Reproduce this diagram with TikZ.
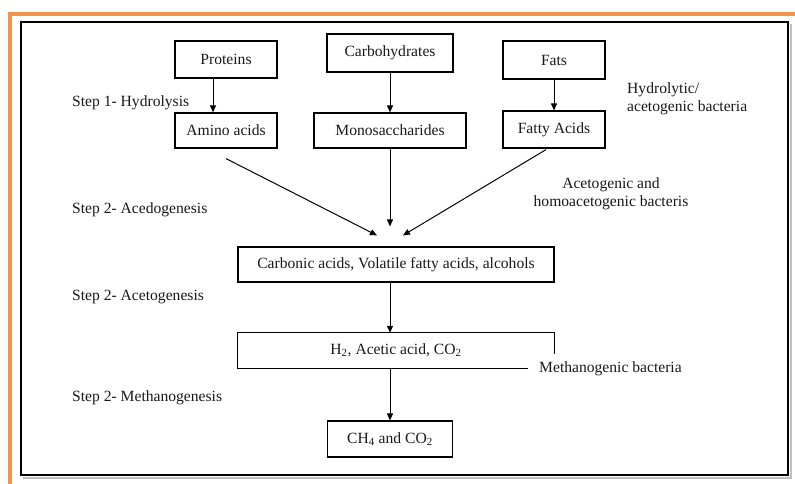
\documentclass[tikz,border=0pt]{standalone}
\usepackage{fontspec}
\setmainfont{Liberation Serif}
\usepackage{tikz}
\usetikzlibrary{arrows.meta}
\definecolor{frameOrange}{RGB}{243,150,75}
\newcommand{\chemSub}[1]{\textsubscript{#1}}
\newcommand{\labelSize}[0]{\fontsize{15.6}{18}\selectfont}

\begin{document}
\begin{tikzpicture}[x=1pt, y=-1pt, >={Triangle[length=7pt,width=6pt]}]
  \tikzset{every node/.style={font=\labelSize, inner sep=0pt, text=black!90},
    stage box/.style={draw, line width=1.2pt, minimum height=36pt},
    step label/.style={anchor=west},
    flow/.style={->, line width=1pt}}
  \useasboundingbox (0,0) rectangle (795,484);
  \fill[white] (0,0) rectangle (795,484);
  \draw[frameOrange, line width=4pt] (10.3,484) -- (10.3,13.7) -- (795,13.7);
  \draw[black!25, line width=2pt] (23,477.5) -- (790.5,477.5) -- (790.5,24);
  \draw[line width=1.3pt] (21,22) rectangle (788,475);
  \node[stage box, minimum width=102pt, minimum height=37pt] (SUB-1) at (226,59.5) {Proteins};
  \node[stage box, minimum width=126pt, minimum height=38pt] (SUB-2) at (390,53) {Carbohydrates};
  \node[stage box, minimum width=102pt, minimum height=38pt] (SUB-3) at (554,60) {Fats};
  \node[stage box, minimum width=102pt, minimum height=35pt] (MON-1) at (226,130.5) {Amino acids};
  \node[stage box, minimum width=152pt, minimum height=35pt] (MON-2) at (390,130.5) {Monosaccharides};
  \node[stage box, minimum width=102pt, minimum height=37pt] (MON-3) at (554,129.5) {Fatty Acids};
  \node[stage box, minimum width=316pt, minimum height=35pt] (INT-1) at (396,264.5) {Carbonic acids, Volatile fatty acids, alcohols};
  \node[minimum width=316pt, minimum height=35pt] (INT-2) at (396,350.5) {H\chemSub{2}, Acetic acid, CO\chemSub{2}};
  \draw[line width=1.2pt] ([xshift=290pt]INT-2.south west) -- (INT-2.south west) -- (INT-2.north west)
    -- (INT-2.north east) -- ([yshift=-21pt]INT-2.north east);
  \node[stage box, minimum width=125pt] (END-1) at (390,439) {CH\chemSub{4} and CO\chemSub{2}};
  \node[step label] (STEP-1) at (72,103) {Step 1- Hydrolysis};
  \node[step label] (STEP-2) at (72,210) {Step 2- Acedogenesis};
  \node[step label] (STEP-3) at (72,297) {Step 2- Acetogenesis};
  \node[step label] (STEP-4) at (72,398) {Step 2- Methanogenesis};
  \node[anchor=west, align=left] (BAC-1) at (627,99) {Hydrolytic/\\acetogenic bacteria};
  \node[align=center] (BAC-2) at (611,194) {Acetogenic and\\homoacetogenic bacteris};
  \node[anchor=west] (BAC-3) at (539,369) {Methanogenic bacteria};
  \draw[flow] ([xshift=-13pt]SUB-1.south) -- ([xshift=-13pt]MON-1.north);
  \draw[flow] (SUB-2) -- (MON-2);
  \draw[flow] (SUB-3) -- (MON-3);
  \draw[flow] ([yshift=-10pt]MON-1.south) -- ([xshift=-19pt,yshift=11pt]INT-1.north);
  \draw[flow] (MON-2.south) -- ([xshift=-6pt,yshift=20pt]INT-1.north);
  \draw[flow] ([xshift=-8pt,yshift=-1pt]MON-3.south) -- ([xshift=7pt,yshift=11pt]INT-1.north);
  \draw[flow] ([xshift=-6pt]INT-1.south) -- ([xshift=-6pt]INT-2.north);
  \draw[flow] ([xshift=-6pt]INT-2.south) -- (END-1.north);
\end{tikzpicture}
\end{document}
